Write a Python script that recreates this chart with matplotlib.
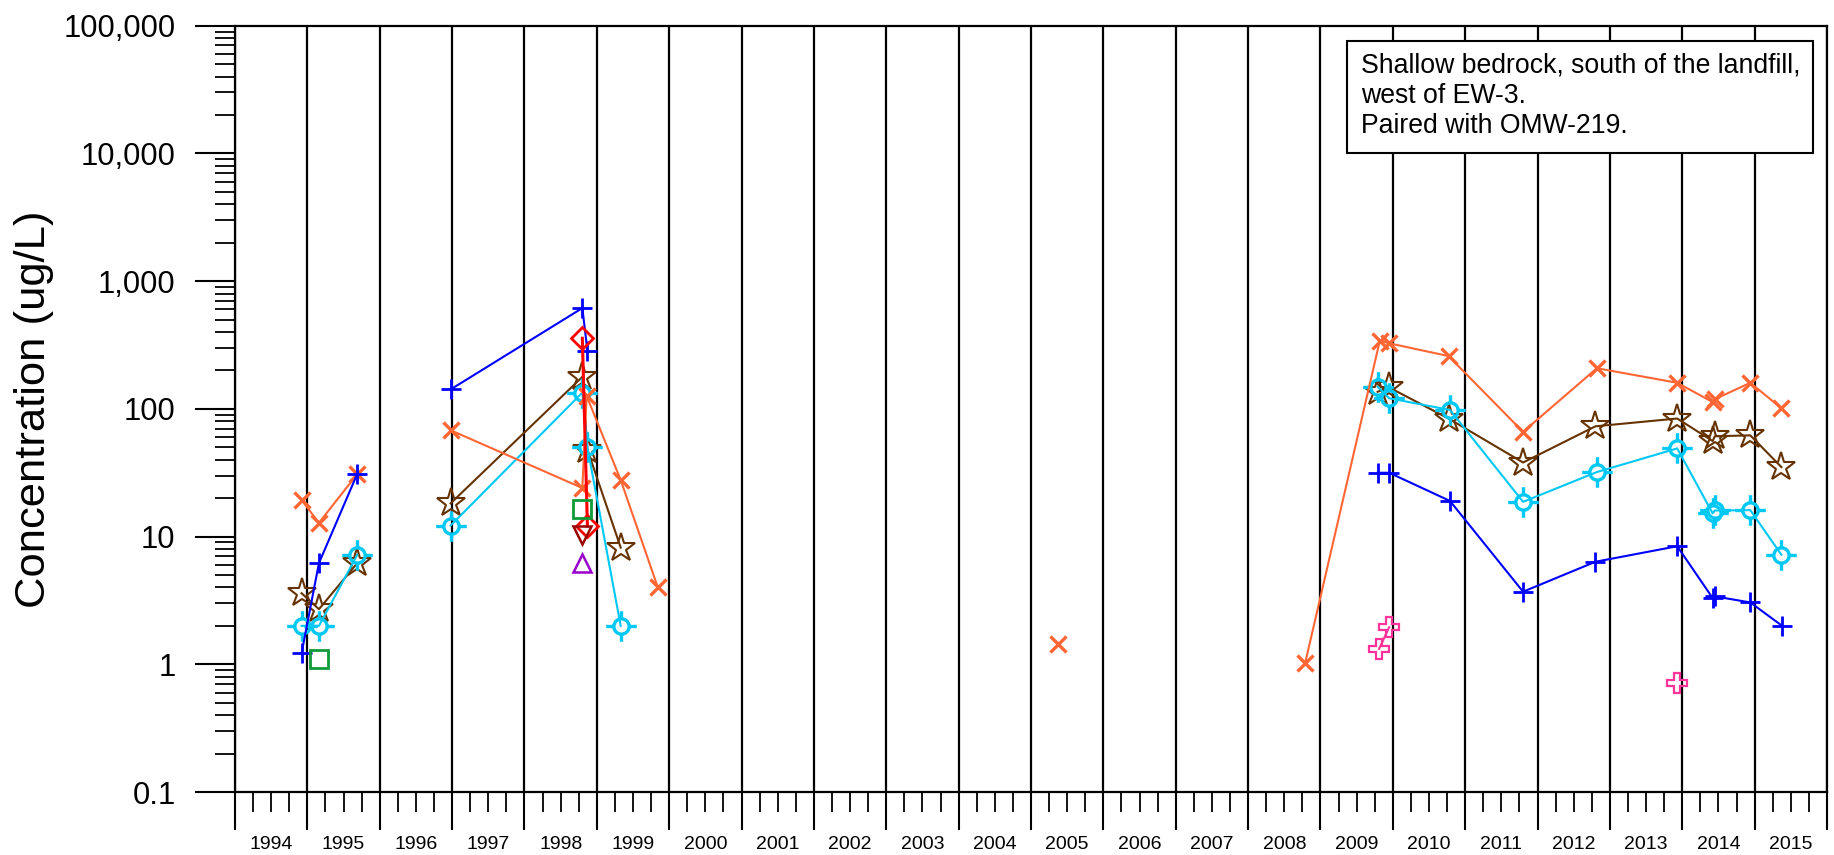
import numpy as np
import matplotlib
matplotlib.use('Agg')
import matplotlib.pyplot as plt
from matplotlib.path import Path
from matplotlib.patches import Rectangle
from matplotlib.ticker import FixedLocator, FuncFormatter, LogLocator, NullFormatter

plt.rcParams['font.family'] = ['Liberation Sans', 'DejaVu Sans']

# sample dates (decimal years) and concentrations in ug/L, None breaks the line
blue_t = [1994.92, 1995.16, 1995.69, None, 1996.98, 1998.80, 1998.87, None,
          2009.79, 2009.95, 2010.79, 2011.80, 2012.80, 2013.93, 2014.42, 2014.45, 2014.94, 2015.38]
blue_v = [1.22, 6.2, 31, None, 142, 615, 285, None,
          31.6, 31.6, 19, 3.7, 6.35, 8.4, 3.3, 3.4, 3.05, 2.0]

orange_t = [1994.92, 1995.16, 1995.69, None, 1996.98, 1998.80, 1998.86, 1999.33, 1999.84, None,
            2005.38, None, 2008.79, 2009.82, 2009.95, 2010.77, 2011.80, 2012.82, 2013.93,
            2014.42, 2014.45, 2014.94, 2015.37]
orange_v = [19.3, 12.8, 30.9, None, 68, 24, 126, 27.7, 4.05, None,
            1.43, None, 1.03, 341, 326, 259, 66, 208, 160,
            113, 119, 160, 101]

brown_t = [1994.92, 1995.16, 1995.69, None, 1996.98, 1998.80, 1998.87, 1999.33, None,
           2009.79, 2009.95, 2010.77, 2011.80, 2012.80, 2013.93, 2014.42, 2014.45, 2014.94, 2015.37]
brown_v = [3.6, 2.7, 6.2, None, 18.2, 178, 48, 8.2, None,
           136, 147, 84, 38, 73, 84, 56, 61, 62, 35]

cyan_t = [1994.92, 1995.16, 1995.69, None, 1996.98, 1998.80, 1998.87, 1999.33, None,
          2009.79, 2009.95, 2010.79, 2011.80, 2012.82, 2013.93, 2014.42, 2014.45, 2014.94, 2015.37]
cyan_v = [2.0, 2.0, 7.2, None, 12.2, 134, 50, 2.0, None,
          149, 121, 98, 18.7, 32, 49, 15.2, 16, 16.1, 7.2]

red_t = [1998.80, 1998.87]
red_v = [357, 12.1]

darkred_t = [1998.80]
darkred_v = [10.3]

purple_t = [1998.80]
purple_v = [6.2]

green_t = [1995.16, None, 1998.80]
green_v = [1.1, None, 16.3]

pink_t = [2009.81, 2009.95, None, 2013.93]
pink_v = [1.32, 1.95, None, 0.72]

years = list(range(1994, 2016))
y_ticks = [0.1, 1, 10, 100, 1000, 10000, 100000]
note = 'Shallow bedrock, south of the landfill,\nwest of EW-3.\nPaired with OMW-219.'

W, H = 1834, 855
fig = plt.figure(figsize=(W / 100, H / 100), dpi=100)
ax = fig.add_axes([235 / W, 1 - 792 / H, (1827 - 235) / W, (792 - 25.7) / H])


def arr(a):
    return np.array([np.nan if v is None else v for v in a], dtype=float)


# circle with crosshair arms
circ = Path.unit_circle()
arms = Path([[1, 0], [2, 0], [-1, 0], [-2, 0], [0, 1], [0, 2], [0, -1], [0, -2]],
            [Path.MOVETO, Path.LINETO] * 4)
target = Path.make_compound_path(circ, arms)

ax.plot(arr(brown_t), arr(brown_v), color='#663300', lw=1.5, marker='*', ms=21,
        mfc='none', mec='#663300', mew=1.5, zorder=3)
ax.plot(arr(cyan_t), arr(cyan_v), color='#00c8f5', lw=1.5, marker=target, ms=22,
        mfc='none', mec='#00c8f5', mew=2.4, zorder=4)
ax.plot(arr(orange_t), arr(orange_v), color='#ff6633', lw=1.5, marker='x', ms=11.5,
        mec='#ff6633', mew=2.4, zorder=5)
ax.plot(arr(blue_t), arr(blue_v), color='#0000ff', lw=1.5, marker='+', ms=15,
        mec='#0000ff', mew=2.0, zorder=6)
ax.plot(arr(red_t), arr(red_v), color='#ff0000', lw=2.2, marker='D', ms=11,
        mfc='none', mec='#ff0000', mew=2.0, zorder=7)
ax.plot(arr(darkred_t), arr(darkred_v), color='#990000', lw=1.5, marker='v', ms=13,
        mfc='none', mec='#990000', mew=1.8, zorder=7)
ax.plot(arr(purple_t), arr(purple_v), color='#9900cc', lw=1.5, marker='^', ms=13,
        mfc='none', mec='#9900cc', mew=1.8, zorder=7)
ax.plot(arr(green_t), arr(green_v), color='#109a3a', lw=1.5, marker='s', ms=13.5,
        mfc='none', mec='#109a3a', mew=2.0, zorder=7)
ax.plot(arr(pink_t), arr(pink_v), color='#ff3399', lw=1.5, marker='P', ms=14,
        mfc='none', mec='#ff3399', mew=1.6, zorder=7)

ax.set_yscale('log')
ax.set_ylim(0.1, 100000)
ax.set_xlim(years[0], years[-1] + 1)

ax.yaxis.set_major_locator(FixedLocator(y_ticks))
ax.yaxis.set_major_formatter(FuncFormatter(lambda v, _: f'{v:,.0f}' if v >= 1 else f'{v:g}'))
ax.yaxis.set_minor_locator(LogLocator(base=10, subs=range(2, 10)))
ax.yaxis.set_minor_formatter(NullFormatter())
ax.tick_params(axis='y', which='major', direction='out', length=28.8, width=1.5,
               labelsize=22.3, pad=14)
ax.tick_params(axis='y', which='minor', direction='out', length=14.4, width=1.3)

ax.xaxis.set_major_locator(FixedLocator(years + [years[-1] + 1]))
ax.xaxis.set_major_formatter(NullFormatter())
quarters = [y + q for y in years for q in (0.25, 0.5, 0.75)]
ax.xaxis.set_minor_locator(FixedLocator(quarters))
ax.xaxis.set_minor_formatter(FuncFormatter(lambda v, _: str(int(v)) if abs(v % 1 - 0.5) < 0.01 else ''))
ax.tick_params(axis='x', which='major', direction='out', length=27.4, width=1.5)
ax.tick_params(axis='x', which='minor', direction='out', length=14.4, width=1.3,
               labelsize=14, pad=17)

ax.grid(axis='x', which='major', color='black', lw=1.6)
ax.set_axisbelow(True)
for s in ax.spines.values():
    s.set_linewidth(1.6)

ax.set_ylabel('Concentration (ug/L)', fontsize=31.3)
ax.yaxis.set_label_coords(-0.1137, 0.5)

fig.add_artist(Rectangle((1346.7 / W, 1 - 152.7 / H), 466 / W, 112 / H,
                         transform=fig.transFigure, fc='white', ec='black', lw=1.5))
fig.text(1360.7 / W, 1 - 53 / H, note, fontsize=19.2, va='top', ha='left',
         linespacing=1.2)

fig.savefig('out.png', dpi=100)
